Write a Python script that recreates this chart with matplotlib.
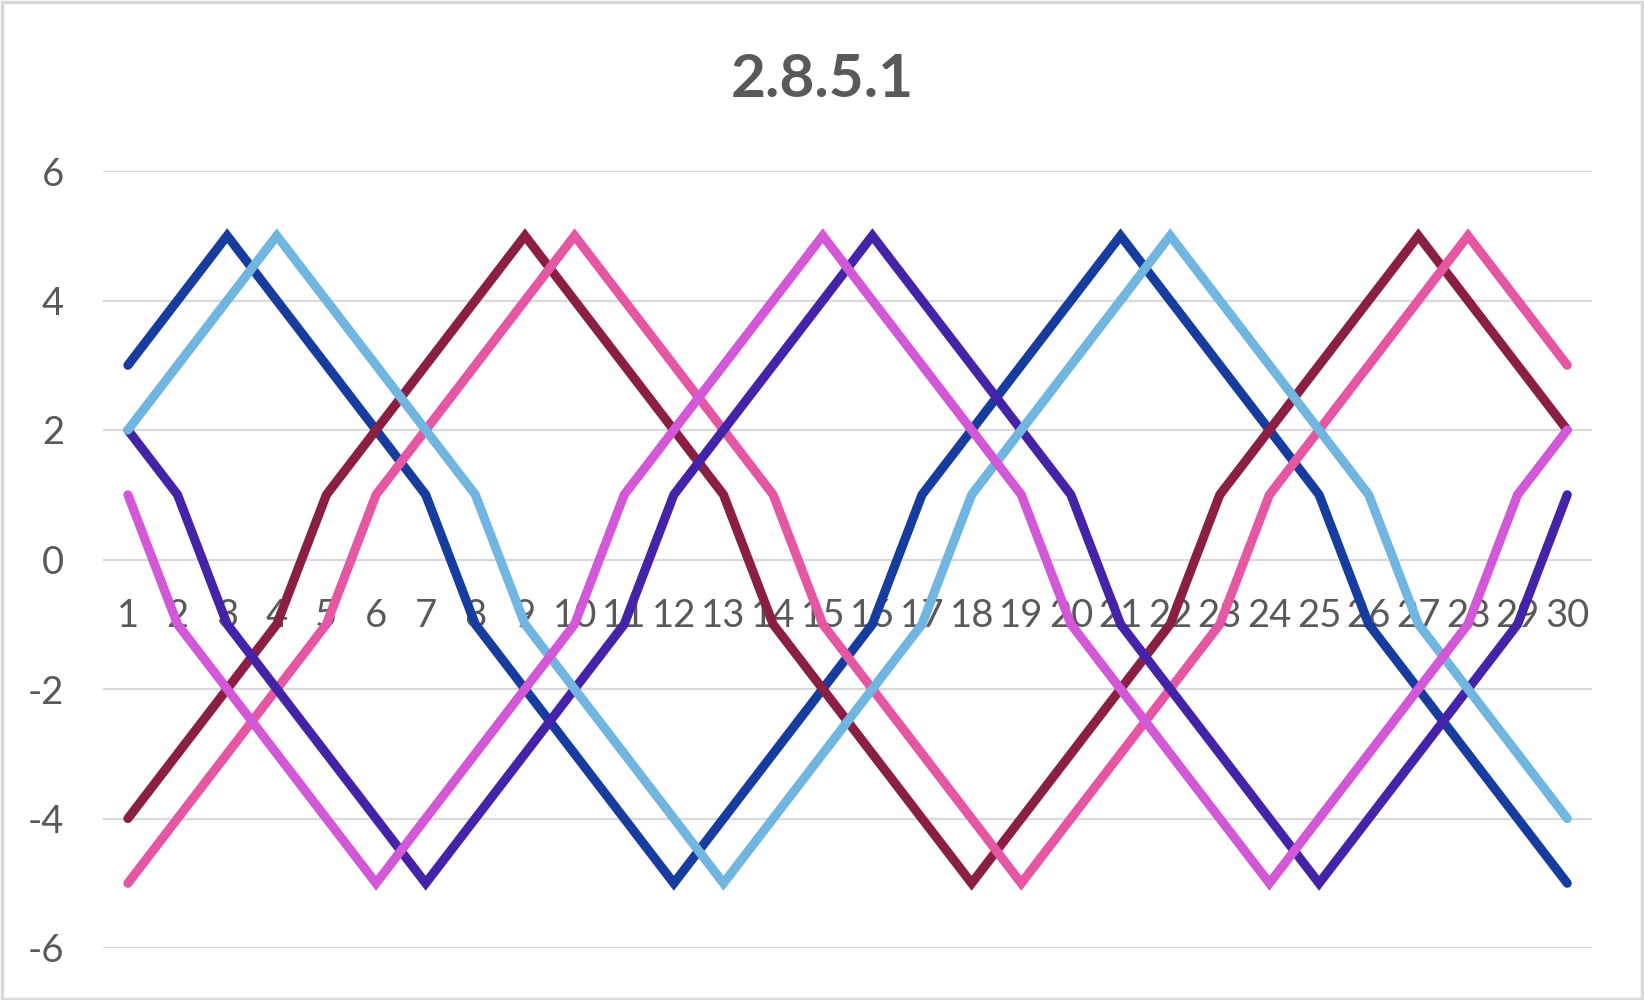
import matplotlib.pyplot as plt
from matplotlib.patches import Rectangle

# categories 1..30
cats = list(range(1, 31))

# series values (no zero value, jumps 1 -> -1)
s_darkblue = [3, 4, 5, 4, 3, 2, 1, -1, -2, -3, -4, -5, -4, -3, -2, -1, 1, 2, 3, 4,
              5, 4, 3, 2, 1, -1, -2, -3, -4, -5]
s_maroon = [-4, -3, -2, -1, 1, 2, 3, 4, 5, 4, 3, 2, 1, -1, -2, -3, -4, -5, -4, -3,
            -2, -1, 1, 2, 3, 4, 5, 4, 3, 2]
s_pink = [-5, -4, -3, -2, -1, 1, 2, 3, 4, 5, 4, 3, 2, 1, -1, -2, -3, -4, -5, -4,
          -3, -2, -1, 1, 2, 3, 4, 5, 4, 3]
s_purple = [2, 1, -1, -2, -3, -4, -5, -4, -3, -2, -1, 1, 2, 3, 4, 5, 4, 3, 2, 1,
            -1, -2, -3, -4, -5, -4, -3, -2, -1, 1]
s_lightblue = [2, 3, 4, 5, 4, 3, 2, 1, -1, -2, -3, -4, -5, -4, -3, -2, -1, 1, 2, 3,
               4, 5, 4, 3, 2, 1, -1, -2, -3, -4]
s_magenta = [1, -1, -2, -3, -4, -5, -4, -3, -2, -1, 1, 2, 3, 4, 5, 4, 3, 2, 1, -1,
             -2, -3, -4, -5, -4, -3, -2, -1, 1, 2]

series = [s_darkblue, s_maroon, s_pink, s_purple, s_lightblue, s_magenta]
colors = ['#173c9f', '#8a1f43', '#e657a3', '#4423a9', '#70b6e0', '#d258d8']

grey = '#595959'
plt.rcParams['font.family'] = ['Lato', 'DejaVu Sans']
plt.rcParams['axes.unicode_minus'] = False

fig = plt.figure(figsize=(16.44, 10), dpi=100)
ax = fig.add_axes([0.0627, 0.052, 0.9057, 0.777])

for vals, c in zip(series, colors):
    ax.plot(cats, vals, color=c, lw=6.6, solid_capstyle='round',
            solid_joinstyle='miter')

ax.set_xlim(0.5, 30.5)
ax.set_ylim(-6, 6)
ax.set_yticks(range(-6, 7, 2))
ax.set_xticks(cats)
ax.set_xticklabels([str(c) for c in cats])

# gridlines
ax.grid(axis='y', color='#d9d9d9', lw=1.6)
ax.set_axisbelow(True)

# category axis crosses at 0, Excel style
ax.spines['bottom'].set_position(('data', 0))
ax.spines['bottom'].set_visible(False)
for s in ['top', 'right', 'left']:
    ax.spines[s].set_visible(False)

ax.tick_params(axis='x', length=0, pad=28, labelsize=27.5, labelcolor=grey)
ax.tick_params(axis='y', length=0, pad=28, labelsize=27.5, labelcolor=grey)

fig.text(0.5, 0.920, '2.8.5.1', ha='center', va='center', fontsize=43.5,
         fontweight='bold', color=grey)

# chart border
fig.patches.append(Rectangle((0.001, 0.0015), 0.998, 0.997, transform=fig.transFigure,
                             fill=False, edgecolor='#d9d9d9', lw=2.5))

fig.savefig('out.png', dpi=100)
